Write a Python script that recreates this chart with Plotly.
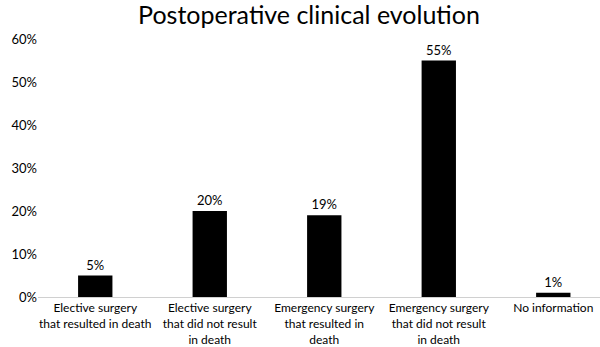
import plotly.graph_objects as go

categories = [
    "Elective surgery<br>that resulted in death",
    "Elective surgery<br>that did not result<br>in death",
    "Emergency surgery<br>that resulted in<br>death",
    "Emergency surgery<br>that did not result<br>in death",
    "No information",
]
values = [5, 20, 19, 55, 1]
tick_vals = [0, 10, 20, 30, 40, 50, 60]
tick_text = [f"{v}%" for v in tick_vals]

font = "Lato"
ink = "#000"

fig = go.Figure(
    go.Bar(
        x=list(range(len(categories))),
        y=values,
        width=0.3,
        marker=dict(color="black", line=dict(width=0)),
        text=[f"{v}%" for v in values],
        textposition="outside",
        textfont=dict(family=font, size=13, color=ink),
        cliponaxis=False,
    )
)

fig.update_layout(
    width=600,
    height=347,
    margin=dict(l=38, r=0, t=39, b=50, autoexpand=False),
    paper_bgcolor="white",
    plot_bgcolor="white",
    showlegend=False,
    title=dict(
        text="Postoperative clinical evolution",
        x=0.515,
        xanchor="center",
        y=0.955,
        yanchor="middle",
        font=dict(family=font, size=25, color=ink),
    ),
    bargap=0.7,
)

fig.update_xaxes(
    automargin=False,
    tickmode="array",
    tickvals=list(range(len(categories))),
    ticktext=categories,
    range=[-0.5, 4.408],
    showline=True,
    linecolor="#d0d0d0",
    linewidth=1,
    ticks="",
    showgrid=False,
    zeroline=False,
    ticklabelstandoff=0,
    tickfont=dict(family=font, size=12, color=ink),
)

fig.update_yaxes(
    automargin=False,
    range=[0, 60],
    tickmode="array",
    tickvals=tick_vals,
    ticktext=tick_text,
    showgrid=False,
    zeroline=False,
    showline=False,
    ticks="",
    ticklen=0,
    tickfont=dict(family=font, size=13, color=ink),
)

fig.write_html("out.html")
